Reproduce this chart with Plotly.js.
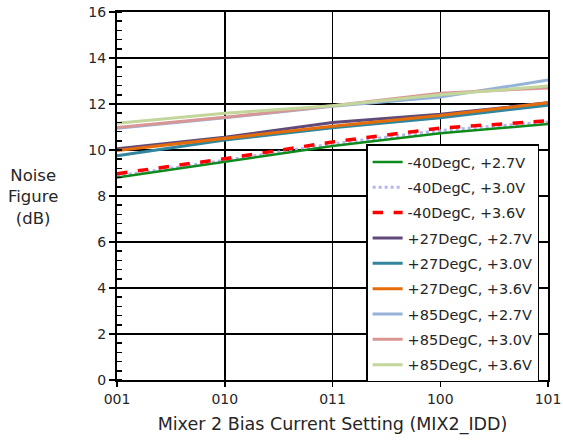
<!DOCTYPE html>
<html>
<head>
<meta charset="utf-8">
<script src="https://cdn.plot.ly/plotly-3.0.1.min.js"></script>
<style>html,body{margin:0;padding:0;background:#fff;}#chart{width:563px;height:442px;}</style>
</head>
<body>
<div id="chart"></div>
<script>
const categories = ['001', '010', '011', '100', '101'];
const seriesNames = ['-40DegC, +2.7V', '-40DegC, +3.0V', '-40DegC, +3.6V',
  '+27DegC, +2.7V', '+27DegC, +3.0V', '+27DegC, +3.6V',
  '+85DegC, +2.7V', '+85DegC, +3.0V', '+85DegC, +3.6V'];
const m40_27 = [8.80, 9.48, 10.17, 10.73, 11.13];
const m40_30 = [8.87, 9.55, 10.27, 10.85, 11.22];
const m40_36 = [8.97, 9.62, 10.35, 10.95, 11.27];
const p27_27 = [10.05, 10.55, 11.20, 11.55, 12.05];
const p27_30 = [9.75, 10.43, 10.97, 11.40, 11.95];
const p27_36 = [9.98, 10.50, 11.03, 11.50, 12.05];
const p85_27 = [10.95, 11.40, 11.90, 12.30, 13.04];
const p85_30 = [10.98, 11.42, 11.92, 12.47, 12.70];
const p85_36 = [11.16, 11.60, 11.92, 12.40, 12.78];
const seriesValues = [m40_27, m40_30, m40_36, p27_27, p27_30, p27_36, p85_27, p85_30, p85_36];

const colors = ['#0f8a1c', '#b4b4f2', '#ff0000', '#604a7b', '#31859c', '#e46c0a', '#95b3d7', '#d99694', '#c3d69b'];
const dashes = ['solid', 'dot', 'dash', 'solid', 'solid', 'solid', 'solid', 'solid', 'solid'];
const widths = [2.5, 3, 3.5, 3, 3, 3, 3, 3, 3];

const order = [6, 7, 8, 3, 4, 5, 1, 0, 2];
const traces = seriesNames.map((n, i) => ({
  x: categories, y: seriesValues[i], name: n, type: 'scatter', mode: 'lines',
  line: {color: colors[i], width: widths[i], dash: dashes[i]},
  legendrank: i + 1, legendgroup: 'g' + i
}));
const drawTraces = order.map(i => traces[i]);

const FONT = 'DejaVu Sans, Liberation Sans, sans-serif';
const layout = {
  width: 563, height: 442,
  margin: {l: 117, r: 15, t: 12, b: 62},
  paper_bgcolor: '#fff', plot_bgcolor: '#fff',
  font: {family: FONT, size: 14, color: '#262626'},
  showlegend: true,
  legend: {
    x: 0.578, y: 0.64, xanchor: 'left', yanchor: 'top',
    bgcolor: '#fff', bordercolor: '#000', borderwidth: 1.5,
    font: {size: 14.5, color: '#262626'}, traceorder: 'grouped', tracegroupgap: 3.5,
    entrywidth: 118, entrywidthmode: 'pixels'
  },
  xaxis: {
    type: 'category', range: [0, 4],
    showgrid: true, gridcolor: '#000', gridwidth: 1.5,
    showline: true, linecolor: '#000', linewidth: 2, mirror: true,
    ticks: 'outside', ticklen: 5, tickwidth: 1.5, tickcolor: '#000',
    tickfont: {size: 14},
    title: {text: 'Mixer 2 Bias Current Setting (MIX2_IDD)', font: {size: 17.5}, standoff: 12},
    zeroline: false
  },
  yaxis: {
    range: [0, 16], dtick: 2, tick0: 0,
    showgrid: true, gridcolor: '#000', gridwidth: 1.5,
    showline: true, linecolor: '#000', linewidth: 2, mirror: true,
    ticks: 'outside', ticklen: 6, tickwidth: 1.5, tickcolor: '#000',
    tickfont: {size: 14},
    minor: {dtick: 0.4, ticks: 'inside', ticklen: 5, tickwidth: 1.5, tickcolor: '#000', showgrid: false},
    zeroline: false
  },
  annotations: [{
    text: 'Noise<br>Figure<br>(dB)', xref: 'paper', yref: 'paper',
    x: -0.195, y: 0.497, xanchor: 'center', yanchor: 'middle', showarrow: false,
    font: {size: 16.5, color: '#262626'}, align: 'center'
  }]
};
Plotly.newPlot('chart', drawTraces, layout, {displayModeBar: false, staticPlot: true});
</script>
</body>
</html>
